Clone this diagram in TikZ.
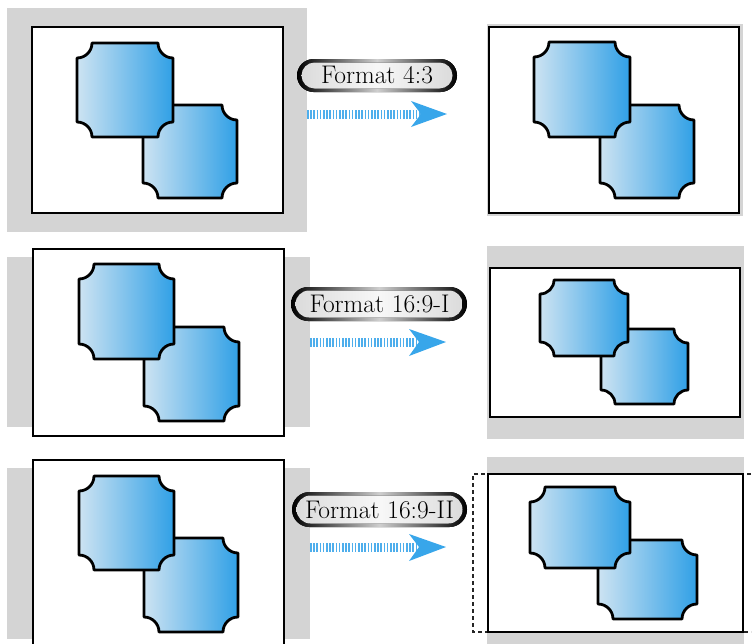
\documentclass[tikz,border=0pt]{standalone}
\usetikzlibrary{calc}
\definecolor{bgGray}{RGB}{212,212,212}
\definecolor{boxL}{RGB}{205,227,242}
\definecolor{boxR}{RGB}{48,160,230}
\definecolor{stripeC}{RGB}{78,174,236}
\definecolor{headC}{RGB}{56,166,234}
\tikzset{
  graybg/.style={fill=bgGray},
  frame/.style={draw=black, line width=2.6pt, fill=white},
  shapestyle/.style={draw=black, line width=2.8pt, line join=round, left color=boxL, right color=boxR},
  pillouter/.style={left color=black, right color=black, middle color=gray!38},
  pillinner/.style={left color=gray!28, right color=gray!28, middle color=gray!6},
  lbl/.style={inner sep=0pt, font=\fontsize{25.5}{28}\selectfont, text=black},
  stripe/.style={draw=stripeC, line width=9pt, dash pattern=on 1.6pt off 1.6pt},
  headfill/.style={fill=headC},
  dashframe/.style={draw=black!85, line width=1.2pt, dash pattern=on 4pt off 3pt}
}
% x1 y1 x2 y2 r
\newcommand\notchshape[5]{%
  \path[shapestyle] ({#1+#5},#2) -- ({#3-#5},#2)
    .. controls ({#3-#5},{#2+0.552*#5}) and ({#3-0.552*#5},{#2+#5}) .. (#3,{#2+#5})
    -- (#3,{#4-#5})
    .. controls ({#3-0.552*#5},{#4-#5}) and ({#3-#5},{#4-0.552*#5}) .. ({#3-#5},#4)
    -- ({#1+#5},#4)
    .. controls ({#1+#5},{#4-0.552*#5}) and ({#1+0.552*#5},{#4-#5}) .. (#1,{#4-#5})
    -- (#1,{#2+#5})
    .. controls ({#1+0.552*#5},{#2+#5}) and ({#1+#5},{#2+0.552*#5}) .. cycle;}
% x1 y1 x2 y2 router rinner
\newcommand\pillbg[6]{%
  \fill[pillouter, rounded corners=#5pt] (#1,#2) rectangle (#3,#4);
  \fill[pillinner, rounded corners=#6pt] ({#1+4.5},{#2+3.5}) rectangle ({#3-4.5},{#4-3.5});}
\begin{document}
\begin{tikzpicture}[x=1pt,y=-1pt]
\useasboundingbox (0,0) rectangle (754,643);
\clip (0,0) rectangle (754,643);

% ---------- Row 1 ----------
\fill[graybg] (7,8) rectangle (307,232);
\path[frame] (32,27) rectangle (283,213);
\notchshape{143}{105}{237}{198}{15}
\notchshape{77}{43}{173}{137}{15}

\fill[graybg] (487,24) rectangle (743,216);
\path[frame] (489,27) rectangle (739,213);
\notchshape{600}{105}{694}{198}{15}
\notchshape{534}{42}{630}{137}{15}

\pillbg{297}{59}{457}{92}{16.5}{13}
\node[lbl] (t1) at (377,75.5) {Format 4:3};
\coordinate (a1s) at (307,114);
\coordinate (a1e) at (422,114);
\coordinate (a1t) at (447,114);
\draw[stripe] (a1s) -- (a1e);
\fill[headfill] (411,101) -- (a1t) -- (411,127) -- (421,114) -- cycle;

% ---------- Row 2 ----------
\fill[graybg] (7,257) rectangle (310,427);
\path[frame] (33,249) rectangle (284,436);
\notchshape{144}{327}{239}{421}{15}
\notchshape{79}{264}{174}{359}{15}

\fill[graybg] (487,246) rectangle (744,439);
\path[frame] (490,268) rectangle (740,417);
\notchshape{601}{329}{688}{404}{14}
\notchshape{540}{280}{628}{356}{14}

\pillbg{291}{287}{467}{321}{17}{13.5}
\node[lbl] (t2) at (379.5,304) {Format 16:9-I};
\coordinate (a2s) at (310,342);
\coordinate (a2e) at (420,342);
\coordinate (a2t) at (446,342);
\draw[stripe] (a2s) -- (a2e);
\fill[headfill] (409,329) -- (a2t) -- (409,356) -- (419,342) -- cycle;

% ---------- Row 3 ----------
\fill[graybg] (7,468) rectangle (310,639);
\path[frame] (33,460) rectangle (284,648);
\notchshape{144}{538}{238}{632}{15}
\notchshape{79}{476}{174}{570}{15}

\fill[graybg] (487,457) rectangle (744,645);
\path[frame] (488,474) rectangle (743,632);
\draw[dashframe] (751,474) -- (473,474) -- (473,632) -- (751,632);
\draw[black, line width=2.6pt] (488,474) rectangle (743,632);
\notchshape{598}{540}{697}{619}{15}
\notchshape{530}{487}{630}{568}{15}

\pillbg{292}{492}{467}{527}{17.5}{14}
\node[lbl] (t3) at (379.5,509.5) {Format 16:9-II};
\coordinate (a3s) at (310,547);
\coordinate (a3e) at (420,547);
\coordinate (a3t) at (446,547);
\draw[stripe] (a3s) -- (a3e);
\fill[headfill] (409,534) -- (a3t) -- (409,561) -- (419,547) -- cycle;
\end{tikzpicture}
\end{document}
